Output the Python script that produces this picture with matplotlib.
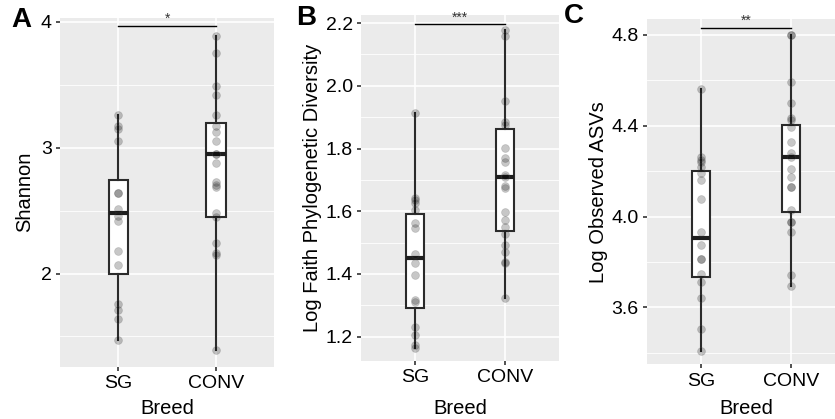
# coding = utf-8

"""
Alpha diversity boxplots, SG vs CONV breeds
"""

import numpy as np
import matplotlib
matplotlib.use("Agg")
import matplotlib.pyplot as plt

plt.rcParams["font.family"] = ["Liberation Sans", "DejaVu Sans"]

groups = ["SG", "CONV"]

### A - Shannon
shannon_sg = [3.26, 3.17, 3.15, 3.05, 2.64, 2.64, 2.51, 2.46, 2.42, 2.18, 2.07,
              1.76, 1.71, 1.64, 1.47]
shannon_conv = [3.89, 3.75, 3.49, 3.42, 3.26, 3.17, 3.12, 3.05, 2.95, 2.95, 2.88,
                2.73, 2.70, 2.69, 2.48, 2.45, 2.24, 2.16, 2.15, 1.39]
shannon_box_sg = [1.995, 2.48, 2.745]     # q1, median, q3
shannon_box_conv = [2.45, 2.95, 3.195]

### B - Log Faith PD
faith_sg = [1.914, 1.641, 1.636, 1.625, 1.604, 1.563, 1.545, 1.463, 1.436, 1.396,
            1.317, 1.31, 1.232, 1.205, 1.173, 1.165]
faith_conv = [2.178, 2.16, 1.952, 1.886, 1.875, 1.803, 1.771, 1.758, 1.715, 1.708,
              1.681, 1.673, 1.598, 1.572, 1.551, 1.526, 1.492, 1.469, 1.439, 1.434,
              1.324]
faith_box_sg = [1.292, 1.452, 1.591]
faith_box_conv = [1.537, 1.71, 1.862]

### C - Log observed ASVs
asv_sg = [4.562, 4.264, 4.25, 4.242, 4.22, 4.19, 4.161, 4.078, 3.934, 3.875, 3.812,
          3.812, 3.747, 3.713, 3.643, 3.503, 3.408]
asv_conv = [4.8, 4.8, 4.592, 4.499, 4.433, 4.425, 4.393, 4.33, 4.279, 4.264, 4.208,
            4.176, 4.129, 4.129, 4.029, 3.978, 3.978, 3.934, 3.743, 3.696]
asv_box_sg = [3.735, 3.904, 4.2]
asv_box_conv = [4.019, 4.264, 4.404]

W, H = 835, 419
fig = plt.figure(figsize=(W / 100, H / 100), dpi=100)


def px_axes(x0, x1, y0, y1):
    # pixel box -> figure fractions
    return fig.add_axes([x0 / W, 1 - y1 / H, (x1 - x0) / W, (y1 - y0) / H])


def panel(ax, sg, conv, box_sg, box_conv, ylim, xlim, major, minor, sig_y, stars):
    ax.set_facecolor("#EBEBEB")
    for s in ax.spines.values():
        s.set_visible(False)
    stats = []
    for data, b in [(sg, box_sg), (conv, box_conv)]:
        stats.append(dict(q1=b[0], med=b[1], q3=b[2], whislo=min(data), whishi=max(data), fliers=[]))
    ax.bxp(stats, positions=[1, 2], widths=0.2, showcaps=False, showfliers=False,
           patch_artist=True,
           boxprops=dict(facecolor="white", edgecolor="#2b2b2b", linewidth=1.5),
           medianprops=dict(color="#1e1e1e", linewidth=3.0),
           whiskerprops=dict(color="#2b2b2b", linewidth=1.5), zorder=2)
    for i, data in enumerate([sg, conv]):
        ax.scatter(np.full(len(data), i + 1), data, s=32, color="black", alpha=0.22,
                   linewidths=0.6, edgecolors="#555555", zorder=3)
    ax.set_xlim(*xlim)
    ax.set_ylim(*ylim)
    ax.set_xticks([1, 2])
    ax.set_xticklabels(groups)
    ax.set_yticks(major)
    ax.set_yticks(minor, minor=True)
    ax.set_axisbelow(True)
    ax.grid(which="major", color="white", linewidth=1.2)
    ax.grid(which="minor", axis="y", color="white", linewidth=0.6)
    ax.tick_params(which="major", length=3, width=1.2, color="#333333",
                   labelsize=14, labelcolor="black", pad=3)
    ax.tick_params(which="minor", length=0)
    # significance bar
    ax.plot([1, 2], [sig_y, sig_y], color="black", linewidth=1.0, clip_on=False, zorder=4)
    ax.text(1.5, sig_y, stars, ha="center", va="bottom", fontsize=10, color="#333333",
            clip_on=False)


axA = px_axes(60, 274.3, 18, 366.7)
panel(axA, shannon_sg, shannon_conv, shannon_box_sg, shannon_box_conv,
      (1.26, 4.029), (0.4, 2.6), [2, 3, 4], [1.5, 2.5, 3.5], 3.968, "*")
axA.set_yticklabels(["2", "3", "4"])

axB = px_axes(361, 559, 15, 361)
panel(axB, faith_sg, faith_conv, faith_box_sg, faith_box_conv,
      (1.122, 2.226), (0.4, 2.6), [1.2, 1.4, 1.6, 1.8, 2.0, 2.2],
      [1.3, 1.5, 1.7, 1.9, 2.1], 2.196, "***")
axB.set_yticklabels(["1.2", "1.4", "1.6", "1.8", "2.0", "2.2"])

axC = px_axes(647, 835, 19.3, 364.3)
panel(axC, asv_sg, asv_conv, asv_box_sg, asv_box_conv,
      (3.349, 4.869), (0.4, 2.489), [3.6, 4.0, 4.4, 4.8], [3.4, 3.8, 4.2, 4.6],
      4.83, "**")
axC.set_yticklabels(["3.6", "4.0", "4.4", "4.8"])

# axis titles
fig.text(25 / W, 1 - 192 / H, "Shannon", rotation=90, ha="center", va="center", fontsize=14.5)
fig.text(312 / W, 1 - 188 / H, "Log Faith Phylogenetic Diversity", rotation=90,
         ha="center", va="center", fontsize=14.5)
fig.text(598 / W, 1 - 192 / H, "Log Observed ASVs", rotation=90, ha="center",
         va="center", fontsize=14.5)
for xc in [167, 460, 746]:
    fig.text(xc / W, 1 - 408 / H, "Breed", ha="center", va="center", fontsize=14.5)

# panel letters
fig.text(11 / W, 1 - 20 / H, "A", fontsize=20, fontweight="bold", va="center")
fig.text(296 / W, 1 - 18 / H, "B", fontsize=20, fontweight="bold", va="center")
fig.text(564 / W, 1 - 16 / H, "C", fontsize=20, fontweight="bold", va="center")

fig.savefig("out.png", dpi=100)
